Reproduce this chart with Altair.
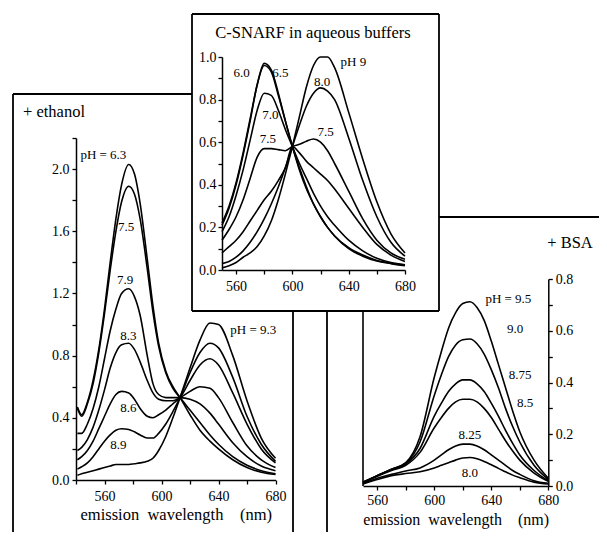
import altair as alt
import pandas as pd

FONT = "Liberation Serif"
W, H = 591, 524

# ---------------- middle panel: C-SNARF in aqueous buffers ----------------
aq_wl = [550, 555, 560, 565, 570, 575, 580, 585, 590, 595, 600, 605, 610, 615, 620, 625, 630, 640, 650, 660, 670, 680]
aq_ph60 = [.21, .29, .40, .54, .70, .87, .97, .94, .83, .70, .58, .47, .38, .31, .25, .20, .16, .10, .065, .042, .03, .02]
aq_ph65 = [.22, .30, .41, .55, .71, .87, .96, .93, .82, .70, .58, .48, .39, .31, .25, .20, .16, .105, .07, .045, .032, .022]
aq_ph70 = [.18, .25, .35, .47, .61, .75, .83, .82, .75, .66, .58, .50, .43, .36, .30, .25, .21, .14, .09, .055, .035, .025]
aq_ph75 = [.14, .19, .25, .33, .43, .53, .57, .57, .565, .56, .58, .59, .605, .615, .60, .56, .50, .37, .24, .14, .08, .05]
aq_ph77 = [.08, .11, .14, .18, .23, .28, .33, .37, .42, .48, .58, .55, .51, .48, .45, .42, .38, .29, .20, .12, .07, .04]
aq_ph80 = [.03, .04, .06, .09, .13, .18, .24, .31, .39, .48, .58, .68, .77, .83, .855, .84, .80, .62, .42, .25, .13, .065]
aq_ph90 = [.01, .02, .035, .06, .08, .11, .16, .23, .33, .45, .58, .72, .86, .96, 1.0, 1.0, .95, .74, .52, .32, .17, .08]
aq_lab_text = ["6.0", "6.5", "7.0", "7.5", "7.5", "8.0", "pH 9"]
aq_lab_wl = [564, 591.4, 584.3, 582.6, 623.6, 621.2, 643.3]
aq_lab_val = [0.926, 0.926, 0.728, 0.613, 0.649, 0.884, 0.978]

# ---------------- left panel: + ethanol ----------------
et_wl = [541, 544, 548, 552, 556, 560, 564, 568, 572, 577, 581, 585, 590, 594, 598, 603, 608, 613, 620, 627, 634, 640, 650, 660, 670, 680]
et_ph63 = [.47, .42, .50, .64, .84, 1.10, 1.40, 1.68, 1.90, 2.03, 1.97, 1.78, 1.42, 1.12, .88, .70, .60, .53, .42, .32, .25, .20, .13, .08, .05, .035]
et_ph75 = [.46, .41, .49, .62, .82, 1.07, 1.35, 1.60, 1.79, 1.89, 1.84, 1.68, 1.36, 1.08, .86, .69, .59, .53, .45, .37, .29, .23, .15, .095, .06, .04]
et_ph79 = [.30, .30, .36, .46, .60, .78, .96, 1.10, 1.20, 1.23, 1.18, 1.06, .80, .62, .55, .53, .53, .53, .52, .49, .43, .36, .24, .15, .09, .06]
et_ph83 = [.19, .21, .26, .34, .45, .58, .72, .82, .87, .88, .84, .76, .64, .56, .52, .51, .51, .53, .57, .60, .59, .53, .37, .22, .13, .08]
et_ph86 = [.13, .15, .19, .25, .33, .41, .49, .55, .57, .56, .52, .46, .41, .40, .42, .45, .49, .53, .64, .74, .78, .74, .56, .36, .20, .11]
et_ph89 = [.07, .085, .11, .15, .20, .25, .29, .32, .33, .325, .31, .29, .27, .27, .30, .36, .44, .53, .69, .82, .88, .85, .66, .41, .23, .12]
et_ph93 = [.03, .04, .05, .06, .07, .08, .09, .10, .10, .10, .105, .11, .12, .14, .19, .28, .40, .53, .72, .90, 1.01, 1.00, .80, .51, .27, .14]
et_lab_text = ["pH = 6.3", "7.5", "7.9", "8.3", "8.6", "8.9", "pH = 9.3"]
et_lab_wl = [559.2, 575.1, 574.4, 576.7, 576.7, 569.7, 664.4]
et_lab_val = [2.09, 1.63, 1.286, 0.926, 0.461, 0.225, 0.965]

# ---------------- right panel: + BSA ----------------
bsa_wl = [550, 560, 570, 580, 590, 600, 605, 610, 615, 620, 625, 630, 635, 640, 645, 650, 655, 660, 670, 680]
bsa_ph95 = [.015, .04, .065, .09, .19, .42, .52, .61, .67, .705, .712, .69, .64, .56, .47, .38, .29, .21, .10, .03]
bsa_ph90 = [.015, .04, .065, .088, .17, .35, .43, .50, .545, .565, .568, .55, .51, .45, .38, .30, .23, .17, .08, .025]
bsa_ph875 = [.015, .04, .063, .085, .145, .27, .32, .365, .395, .41, .41, .395, .365, .32, .27, .215, .165, .12, .06, .02]
bsa_ph85 = [.014, .038, .06, .08, .13, .225, .265, .30, .325, .335, .335, .325, .30, .265, .22, .175, .135, .10, .05, .018]
bsa_ph825 = [.01, .03, .045, .058, .07, .10, .12, .14, .155, .162, .162, .155, .14, .12, .10, .08, .06, .045, .02, .01]
bsa_ph80 = [.008, .025, .04, .048, .055, .07, .08, .09, .10, .108, .11, .105, .095, .082, .068, .055, .042, .032, .015, .008]
bsa_lab_text = ["pH = 9.5", "9.0", "8.75", "8.5", "8.25", "8.0"]
bsa_lab_wl = [652, 656.7, 660.2, 663.7, 625, 625]
bsa_lab_val = [0.722, 0.606, 0.429, 0.322, 0.197, 0.051]

# axis ticks
aq_x_ticks = [560, 580, 600, 620, 640, 660, 680]
aq_y_ticks = [0.0, 0.1, 0.2, 0.3, 0.4, 0.5, 0.6, 0.7, 0.8, 0.9, 1.0]
et_x_ticks = [540, 560, 580, 600, 620, 640, 660, 680]
et_y_ticks = [0.0, 0.2, 0.4, 0.6, 0.8, 1.0, 1.2, 1.4, 1.6, 1.8, 2.0, 2.2]
bsa_x_ticks = [560, 580, 600, 620, 640, 660, 680]
bsa_y_ticks = [0.0, 0.1, 0.2, 0.3, 0.4, 0.5, 0.6, 0.7, 0.8]


def long_df(wl, series):
    rows = []
    for name, vals in series.items():
        for w, v in zip(wl, vals):
            rows.append({"wl": w, "val": v, "series": name})
    return pd.DataFrame(rows)


def labels_df(texts, wls, vals):
    return pd.DataFrame({"wl": wls, "val": vals, "text": texts})


X_LABELS = "(datum.value - 560) % 40 == 0 ? datum.label : ''"
Y_LABELS_02 = "round(datum.value*10) % 2 == 0 ? format(datum.value, '.1f') : ''"
Y_LABELS_04 = "round(datum.value*10) % 4 == 0 && datum.value < 2.1 ? format(datum.value, '.1f') : ''"
XTITLE = "emission\u00a0\u00a0wavelength\u00a0\u00a0\u00a0\u00a0(nm)"


def make_axis(**kw):
    base = dict(
        grid=False, domainColor="black", domainWidth=1.5, tickColor="black",
        tickWidth=1.3, tickSize=4, labelFont=FONT, labelFontSize=14,
        labelColor="black", labelOverlap=False, labelFlush=False,
    )
    base.update(kw)
    return alt.Axis(**base)


def lines_layer(df, xscale, yscale, xaxis, yaxis):
    return alt.Chart(df).mark_line(
        color="black", strokeWidth=1.6, interpolate="monotone"
    ).encode(
        x=alt.X("wl:Q", scale=xscale, axis=xaxis),
        y=alt.Y("val:Q", scale=yscale, axis=yaxis),
        detail="series:N",
    )


def labels_layer(ldf, xscale, yscale):
    return alt.Chart(ldf).mark_text(
        font=FONT, fontSize=13, color="black", align="center", baseline="middle"
    ).encode(
        x=alt.X("wl:Q", scale=xscale, axis=None),
        y=alt.Y("val:Q", scale=yscale, axis=None),
        text="text:N",
    )


one = pd.DataFrame({"a": [0]})


def seg(x1, y1, x2, y2, w=1.8):
    return alt.Chart(one).mark_rule(color="black", strokeWidth=w).encode(
        x=alt.value(x1), x2=alt.value(x2), y=alt.value(y1), y2=alt.value(y2)
    )


def title_text(txt, x, y, align):
    return alt.Chart(one).mark_text(
        font=FONT, fontSize=16.5, color="black", align=align, baseline="middle"
    ).encode(x=alt.value(x), y=alt.value(y), text=alt.value(txt))


# ----- frames (only the visible parts of the overlapping boxes) -----
frames = [
    seg(5, 86, 5, 524), seg(5, 86, 184, 86), seg(285, 303, 285, 524),      # + ethanol box
    seg(184, 6, 431, 6, 2.2), seg(184, 6, 184, 303), seg(431, 6, 431, 303),
    seg(184, 303, 431, 303),                                                # aqueous box
    seg(431, 209, 591, 209), seg(319, 303, 319, 524),                       # + BSA box
    seg(355, 303, 355, 478, 1.6),                                           # BSA plot left edge
]

# ----- left panel -----
et_x = alt.Scale(domain=[540, 680], range=[68, 267.5], nice=False, zero=False)
et_y = alt.Scale(domain=[0, 2.2], range=[472, 130], nice=False, zero=False)
left_lines = lines_layer(
    long_df(et_wl, {"6.3": et_ph63, "7.5": et_ph75, "7.9": et_ph79, "8.3": et_ph83,
                    "8.6": et_ph86, "8.9": et_ph89, "9.3": et_ph93}),
    et_x, et_y,
    make_axis(orient="bottom", offset=472 - H, values=et_x_ticks, labelExpr=X_LABELS,
              labelPadding=5, title=XTITLE, titleFont=FONT, titleFontSize=16.5,
              titleFontWeight="normal", titleColor="black", titlePadding=3),
    make_axis(orient="left", offset=-68, values=et_y_ticks, labelPadding=3,
              labelExpr=Y_LABELS_04, title=None),
)
left_labels = labels_layer(labels_df(et_lab_text, et_lab_wl, et_lab_val), et_x, et_y)

# ----- right panel -----
bsa_x = alt.Scale(domain=[550, 680], range=[355, 540.3], nice=False, zero=False)
bsa_y = alt.Scale(domain=[0, 0.8], range=[478, 271], nice=False, zero=False)
right_lines = lines_layer(
    long_df(bsa_wl, {"9.5": bsa_ph95, "9.0": bsa_ph90, "8.75": bsa_ph875, "8.5": bsa_ph85,
                     "8.25": bsa_ph825, "8.0": bsa_ph80}),
    bsa_x, bsa_y,
    make_axis(orient="bottom", offset=478 - H, values=bsa_x_ticks, labelExpr=X_LABELS,
              labelPadding=3, title=XTITLE, titleFont=FONT, titleFontSize=16,
              titleFontWeight="normal", titleColor="black", titlePadding=4),
    make_axis(orient="right", offset=540.3 - W, values=bsa_y_ticks, labelPadding=3,
              labelExpr=Y_LABELS_02, title=None),
)
right_labels = labels_layer(labels_df(bsa_lab_text, bsa_lab_wl, bsa_lab_val), bsa_x, bsa_y)

# ----- middle panel -----
aq_x = alt.Scale(domain=[550, 680], range=[214, 397], nice=False, zero=False)
aq_y = alt.Scale(domain=[0, 1.0], range=[262, 49], nice=False, zero=False)
mid_lines = lines_layer(
    long_df(aq_wl, {"6.0": aq_ph60, "6.5": aq_ph65, "7.0": aq_ph70, "7.5": aq_ph75,
                    "7.7": aq_ph77, "8.0": aq_ph80, "9": aq_ph90}),
    aq_x, aq_y,
    make_axis(orient="bottom", offset=262 - H, values=aq_x_ticks, labelExpr=X_LABELS,
              labelPadding=5, title=None),
    make_axis(orient="left", offset=-214, values=aq_y_ticks, labelPadding=2,
              labelExpr=Y_LABELS_02, title=None),
)
mid_labels = labels_layer(labels_df(aq_lab_text, aq_lab_wl, aq_lab_val), aq_x, aq_y)

titles = [
    title_text("+ ethanol", 15, 104, "left"),
    title_text("C-SNARF in aqueous buffers", 305, 25, "center"),
    title_text("+ BSA", 562, 235, "center"),
]

chart = alt.layer(
    *frames, *titles,
    left_lines, left_labels, right_lines, right_labels, mid_lines, mid_labels,
).resolve_scale(
    x="independent", y="independent"
).resolve_axis(
    x="independent", y="independent"
).properties(
    width=W, height=H, autosize=alt.AutoSizeParams(type="none"), padding=0
).configure(
    font=FONT
).configure_axis(
    labelFont=FONT, titleFont=FONT
).configure_text(
    font=FONT
).configure_view(strokeWidth=0)

chart.save("out.html", embed_options={"renderer": "svg", "actions": False})
